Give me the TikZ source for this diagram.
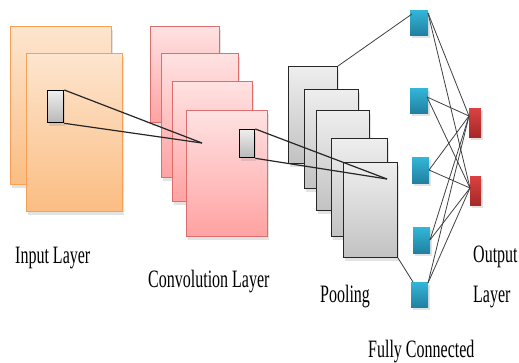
\documentclass[tikz,border=0pt]{standalone}
\usepackage{fontspec}
\setmainfont{Liberation Serif}
\usetikzlibrary{shadows,calc}
\definecolor{inTop}{HTML}{FDE5CF}
\definecolor{inBot}{HTML}{FBBD82}
\definecolor{inEdge}{HTML}{F7A158}
\definecolor{cvTop}{HTML}{FFE2E2}
\definecolor{cvBot}{HTML}{FFA2A2}
\definecolor{cvEdge}{HTML}{DC6E6E}
\definecolor{plTop}{HTML}{EEEEEE}
\definecolor{plBot}{HTML}{C2C2C2}
\definecolor{fcTop}{HTML}{33B6D8}
\definecolor{fcBot}{HTML}{2080A0}
\definecolor{ouTop}{HTML}{DA4242}
\definecolor{ouBot}{HTML}{A52828}
\tikzset{
  sheet/.style={rectangle, inner sep=0pt, anchor=north west,
    drop shadow={opacity=0.22, shadow xshift=1.5pt, shadow yshift=-3pt}},
  inbox/.style={sheet, draw=inEdge, line width=1pt, top color=inTop, bottom color=inBot},
  cvbox/.style={sheet, draw=cvEdge, line width=1pt, top color=cvTop, bottom color=cvBot},
  plbox/.style={sheet, draw=black!85, line width=1pt, top color=plTop, bottom color=plBot},
  kern/.style={sheet, draw=black, line width=1.3pt, top color=plTop, bottom color=black!28},
  fcnode/.style={sheet, top color=fcTop, bottom color=fcBot},
  ounode/.style={sheet, top color=ouTop, bottom color=ouBot},
  rf/.style={draw=black!85, line width=1.2pt},
  fcl/.style={draw=black!75, line width=0.8pt},
  lbl/.style={anchor=base west, inner sep=0pt, font=\fontsize{25}{29}\selectfont, text=black}
}
\newcommand{\sq}[1]{\scalebox{0.64}[1]{#1}}
\begin{document}
\begin{tikzpicture}[x=1pt,y=-1pt]
\useasboundingbox (0,0) rectangle (519,362);
% input layer
\node[inbox, minimum width=101pt, minimum height=158pt] (in1) at (10,26) {};
\node[inbox, minimum width=96pt, minimum height=158pt] (in2) at (26,53) {};
\node[kern, minimum width=16pt, minimum height=32pt] (ik) at (47,90) {};
% convolution layer
\node[cvbox, minimum width=69pt, minimum height=96pt] (c1) at (150,26) {};
\node[cvbox, minimum width=77pt, minimum height=124pt] (c2) at (161,53) {};
\node[cvbox, minimum width=80pt, minimum height=120pt] (c3) at (172,81) {};
\node[cvbox, minimum width=81pt, minimum height=126pt] (c4) at (186,110) {};
\node[kern, minimum width=15pt, minimum height=28pt] (ck) at (239,129) {};
\coordinate (cf) at (202,143);
% pooling
\node[plbox, minimum width=49pt, minimum height=97pt] (p1) at (288,66) {};
\node[plbox, minimum width=54pt, minimum height=99pt] (p2) at (304,89) {};
\node[plbox, minimum width=53pt, minimum height=100pt] (p3) at (316,110) {};
\node[plbox, minimum width=56pt, minimum height=98pt] (p4) at (331,138) {};
\node[plbox, minimum width=54pt, minimum height=95pt] (p5) at (343,162) {};
\coordinate (pf) at (387,179);
% receptive field lines
\draw[rf] (ik.north east) -- (cf);
\draw[rf] (ik.south east) -- (cf);
\draw[rf] (ck.north east) -- (pf);
\draw[rf] (ck.south east) -- (pf);
% fully connected
\node[fcnode, minimum width=18pt, minimum height=25pt] (f1) at (410,10) {};
\node[fcnode, minimum width=18pt, minimum height=25pt] (f2) at (410,88) {};
\node[fcnode, minimum width=17pt, minimum height=26pt] (f3) at (412,157) {};
\node[fcnode, minimum width=17pt, minimum height=26pt] (f4) at (413,227) {};
\node[fcnode, minimum width=17pt, minimum height=25pt] (f5) at (411,282) {};
% output
\node[ounode, minimum width=12pt, minimum height=29pt] (o1) at (469,108) {};
\node[ounode, minimum width=11pt, minimum height=29pt] (o2) at (470,176) {};
\coordinate (o1in) at (469,116);
\coordinate (o2in) at (470,188);
\coordinate (f1out) at (428,13);
\coordinate (f2out) at (427,97);
\coordinate (f3out) at (429,170);
\coordinate (f4out) at (430,240);
\coordinate (f5out) at (428,283);
\coordinate (f1in) at (412,14);
\coordinate (f5in) at (413,282);
\draw[fcl] (p1.north east) -- (f1in);
\draw[fcl] (p5.south east) -- (f5in);
\foreach \f in {f1out,f2out,f3out,f4out,f5out}{
  \draw[fcl] (\f) -- (o1in);
  \draw[fcl] (\f) -- (o2in);
}
% labels
\node[lbl] (tin) at (15,263) {\sq{Input Layer}};
\node[lbl] (tcv) at (148,287) {\sq{Convolution Layer}};
\node[lbl] (tpl) at (320,302) {\sq{Pooling}};
\node[lbl] (tfc) at (368,357) {\sq{Fully Connected}};
\node[lbl] (tou) at (473,262) {\sq{Output}};
\node[lbl] (tly) at (473,302) {\sq{Layer}};
\end{tikzpicture}
\end{document}
